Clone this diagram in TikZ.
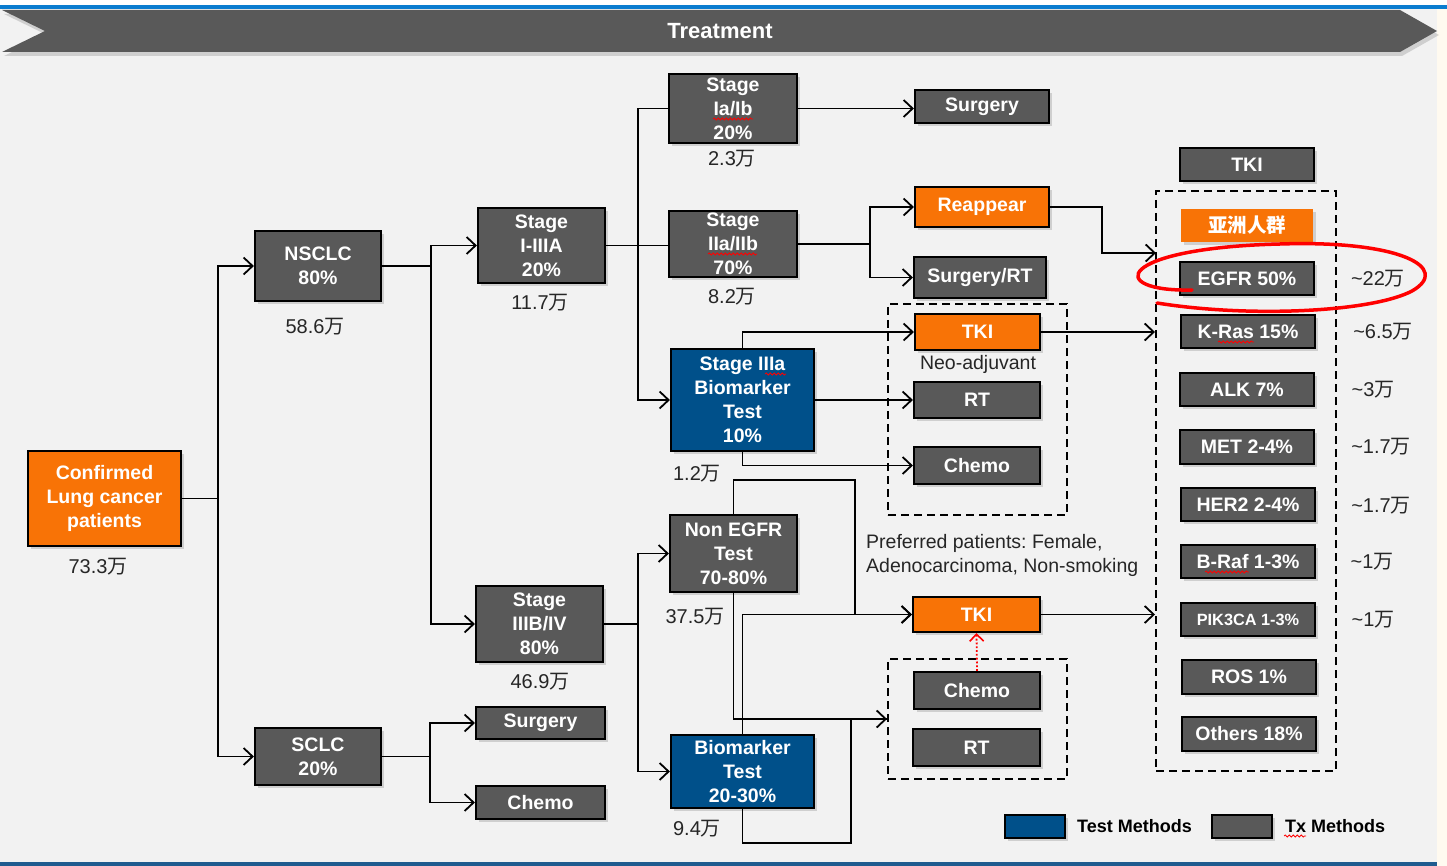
\documentclass[tikz,border=0pt]{standalone}
\usepackage{fontspec}
\setmainfont{Liberation Sans}
\newfontfamily\cjk{Noto Sans CJK SC}
\newcommand\wanz{{\cjk 万}}
\usetikzlibrary{arrows.meta,shadows,calc,decorations.pathmorphing}
\definecolor{gbox}{HTML}{595959}
\definecolor{obox}{HTML}{F87306}
\definecolor{bbox}{HTML}{00508A}
\definecolor{bgcol}{HTML}{F2F2F2}
\definecolor{lbltext}{HTML}{262626}
\definecolor{topblue}{HTML}{0A7CCF}
\definecolor{botblue}{HTML}{1F5B8F}
\definecolor{cream}{HTML}{FFFAF0}
\frenchspacing
\begin{document}
\begin{tikzpicture}[x=1pt,y=-1pt,
 sz/.style 2 args={minimum width=#1pt, minimum height=#2pt},
 base/.style={draw=black, line width=2.2pt, text=white, align=center, inner sep=0pt,
   font=\bfseries\fontsize{19.5}{24}\selectfont,
   drop shadow={shadow xshift=3pt, shadow yshift=-3pt, opacity=0.3}},
 txbox/.style={base, fill=gbox},
 hotbox/.style={base, fill=obox},
 testbox/.style={base, fill=bbox},
 lbl/.style={text=lbltext, font=\fontsize{20}{24}\selectfont, inner sep=0pt},
 conn/.style={line width=1.8pt, draw=black},
 arr/.style={conn, -{Straight Barb[length=9pt,width=17pt,line width=1.8pt]}},
 dbox/.style={draw=black, line width=2pt, dash pattern=on 8pt off 5pt, inner sep=0pt},
 spell/.style={draw=red, line width=0.8pt, decorate, decoration={snake, segment length=4pt, amplitude=1pt}},
]
\useasboundingbox (0,0) rectangle (1447,866);
% background
\fill[bgcol] (0,0) rectangle (1437,866);
\fill[white] (0,0) rectangle (1447,5);
\fill[cream] (1437,5) rectangle (1447,866);
\fill[topblue] (0,5) rectangle (1447,9);
\fill[botblue] (0,862) rectangle (1437,866);
% banner
\fill[gbox, drop shadow={shadow xshift=2pt, shadow yshift=-4pt, opacity=0.3}]
  (2,10) -- (1400,10) -- (1437,31) -- (1400,52) -- (2,52) -- (45,31) -- cycle;
\node[text=white, font=\bfseries\fontsize{22}{24}\selectfont] (title) at (720,31) {Treatment};

% dashed groups
\node[dbox, sz={179}{211}] (db1) at (977.5,409.5) {};
\node[dbox, sz={179}{120}] (db2) at (977.5,719) {};
\node[dbox, sz={180}{580}] (db3) at (1246,481) {};

% main nodes
\node[hotbox, sz={153}{95}] (conf) at (104.5,498.5) {Confirmed\\Lung cancer\\patients};
\node[txbox, sz={126}{70}] (nsclc) at (318,266) {NSCLC\\80\%};
\node[txbox, sz={126}{57}] (sclc) at (318,756.5) {SCLC\\20\%};
\node[txbox, sz={127}{75}] (s13a) at (541.5,245.5) {Stage\\I-IIIA\\20\%};
\node[txbox, sz={127}{76}] (s3b4) at (539.5,624) {Stage\\IIIB/IV\\80\%};
\node[txbox, sz={129}{32}] (surgS) at (540.5,723) {Surgery};
\node[txbox, sz={129}{33}] (chemoS) at (540.5,802.5) {Chemo};
\node[txbox, sz={128}{69}] (s1) at (733,108.5) {Stage\\Ia/Ib\\20\%};
\node[txbox, sz={128}{66}] (s2) at (733,244) {Stage\\IIa/IIb\\70\%};
\node[testbox, sz={143}{102}] (s3a) at (742.5,400) {Stage IIIa\\Biomarker\\Test\\10\%};
\node[txbox, sz={127}{77}] (negfr) at (733.5,553.5) {Non EGFR\\Test\\70-80\%};
\node[testbox, sz={143}{73}] (bmt) at (742.5,771.5) {Biomarker\\Test\\20-30\%};

\node[txbox, sz={134}{33}] (surg1) at (982,106.5) {Surgery};
\node[hotbox, sz={134}{40}] (reap) at (982,207) {Reappear};
\node[txbox, sz={132}{41}] (surgrt) at (980,277.5) {Surgery/RT};
\node[hotbox, sz={125}{36}] (tki1) at (977.5,332) {TKI};
\node[txbox, sz={126}{36}] (rt1) at (977,400) {RT};
\node[txbox, sz={126}{37}] (chemo1) at (977,465.5) {Chemo};
\node[hotbox, sz={127}{35}] (tki2) at (976.5,614.5) {TKI};
\node[txbox, sz={126}{37}] (chemo2) at (977,690.5) {Chemo};
\node[txbox, sz={127}{37}] (rt2) at (976.5,747.5) {RT};

% right column
\node[txbox, sz={134}{33}] (tkiR) at (1247,164.5) {TKI};
\node[base, draw=none, fill=obox, sz={132}{33}] (asia) at (1247,225.5) {{\cjk\bfseries 亚洲人群}};
\node[txbox, sz={134}{33}] (egfr) at (1247,278.5) {EGFR 50\%};
\node[txbox, sz={134}{33}] (kras) at (1248,331.5) {K-Ras 15\%};
\node[txbox, sz={134}{33}] (alk) at (1247,389.5) {ALK 7\%};
\node[txbox, sz={134}{34}] (met) at (1247,447) {MET 2-4\%};
\node[txbox, sz={134}{33}] (her2) at (1248,504.5) {HER2 2-4\%};
\node[txbox, sz={134}{33}] (braf) at (1248,561.5) {B-Raf 1-3\%};
\node[txbox, sz={134}{33}, font=\bfseries\fontsize{16.3}{18}\selectfont] (pik) at (1248,619.5) {PIK3CA 1-3\%};
\node[txbox, sz={134}{34}] (ros) at (1249,677) {ROS 1\%};
\node[txbox, sz={134}{34}] (oth) at (1249,734) {Others 18\%};

% number labels
\node[lbl] (lconf) at (98,567) {73.3\wanz};
\node[lbl] (lnsclc) at (315,327) {58.6\wanz};
\node[lbl] (ls13a) at (540,303) {11.7\wanz};
\node[lbl] (ls3b4) at (540,682) {46.9\wanz};
\node[lbl] (ls1) at (732,159) {2.3\wanz};
\node[lbl] (ls2) at (732,297) {8.2\wanz};
\node[lbl] (ls3a) at (697,474) {1.2\wanz};
\node[lbl] (lnegfr) at (695,617) {37.5\wanz};
\node[lbl] (lbmt) at (697,829) {9.4\wanz};
\node[lbl] (legfr) at (1378,279) {\textasciitilde 22\wanz};
\node[lbl] (lkras) at (1383,332) {\textasciitilde 6.5\wanz};
\node[lbl] (lalk) at (1373,390) {\textasciitilde 3\wanz};
\node[lbl] (lmet) at (1381,447) {\textasciitilde 1.7\wanz};
\node[lbl] (lher2) at (1381,506) {\textasciitilde 1.7\wanz};
\node[lbl] (lbraf) at (1372,562) {\textasciitilde 1\wanz};
\node[lbl] (lpik) at (1373,620) {\textasciitilde 1\wanz};
\node[lbl, font=\fontsize{19.5}{22}\selectfont] (neo) at (978,364) {Neo-adjuvant};
\node[lbl, anchor=west, align=left, font=\fontsize{19.5}{24}\selectfont] (pref) at (866,555) {Preferred patients: Female,\\Adenocarcinoma, Non-smoking};

% free ends
\coordinate (in1) at (1156,253);
\coordinate (in2) at (db3.west |- tki1.east);
\coordinate (in3) at (db3.west |- tki2.east);

% connectors
\draw[arr] (conf.east) -- ++(36,0) |- (nsclc.west);
\draw[arr] (conf.east) -- ++(36,0) |- (sclc.west);
\draw[arr] (nsclc.east) -- ++(49,0) |- (s13a.west);
\draw[arr] (nsclc.east) -- ++(49,0) |- (s3b4.west);
\draw[conn] (s13a.east) -- (s13a.east -| s2.west);
\draw[conn] (s13a.east) -- ++(32,0) |- (s1.west);
\draw[arr] (s13a.east) -- ++(32,0) |- (s3a.west);
\draw[arr] (s1.east) -- (s1.east -| surg1.west);
\draw[arr] (s2.east) -- ++(72,0) |- (reap.west);
\draw[arr] (s2.east) -- ++(72,0) |- (surgrt.west);
\draw[arr] (reap.east) -- ++(52,0) |- (in1);
\draw[arr] (s3a.north) |- (tki1.west);
\draw[arr] (s3a.east) -- (s3a.east -| rt1.west);
\draw[arr] (s3a.south) |- (chemo1.west);
\draw[arr] (tki1.east) -- (in2);
\draw[arr] (s3b4.east) -- ++(34,0) |- (negfr.west);
\draw[arr] (s3b4.east) -- ++(34,0) |- (bmt.west);
\draw[arr] (sclc.east) -- ++(48,0) |- (surgS.west);
\draw[arr] (sclc.east) -- ++(48,0) |- (chemoS.west);
\draw[arr] (negfr.north) -- ++(0,-34) -- ++(121.5,0) |- (tki2.west);
\draw[arr] (bmt.north) |- (tki2.west);
\draw[arr] (negfr.south) |- (db2.west);
\draw[conn] (bmt.south) -- ++(0,34) -- ++(108.5,0) |- (db2.west);
\draw[arr] (tki2.east) -- (in3);
\draw[red, line width=1.8pt, dotted, -{Straight Barb[length=7pt,width=14pt,line width=1.6pt]}] (chemo2.north) -- (tki2.south);

% legend
\node[testbox, sz={60}{23}] (lgt) at (1035,826.5) {};
\node[anchor=west, font=\bfseries\fontsize{18}{20}\selectfont, inner sep=0pt] (lgtt) at (1077,826.5) {Test Methods};
\node[txbox, sz={60}{23}] (lgx) at (1242,826.5) {};
\node[anchor=west, font=\bfseries\fontsize{18}{20}\selectfont, inner sep=0pt] (lgxt) at (1285,826.5) {Tx Methods};

% spell-check underlines
\draw[spell] (713,119) -- (753,119);
\draw[spell] (708,254) -- (757,254);
\draw[spell] (765,374) -- (786,374);
\draw[spell] (1218,342) -- (1254,342);
\draw[spell] (1205,572) -- (1249,572);
\draw[spell] (1284,836) -- (1306,836);

% red highlight
\draw[red, line width=3.5pt, line cap=round] (1192,290) .. controls (1105,292) and (1115,248) .. (1280,244)
  .. controls (1400,240) and (1452,268) .. (1412,291)
  .. controls (1372,312) and (1250,318) .. (1157,303);
\end{tikzpicture}
\end{document}
